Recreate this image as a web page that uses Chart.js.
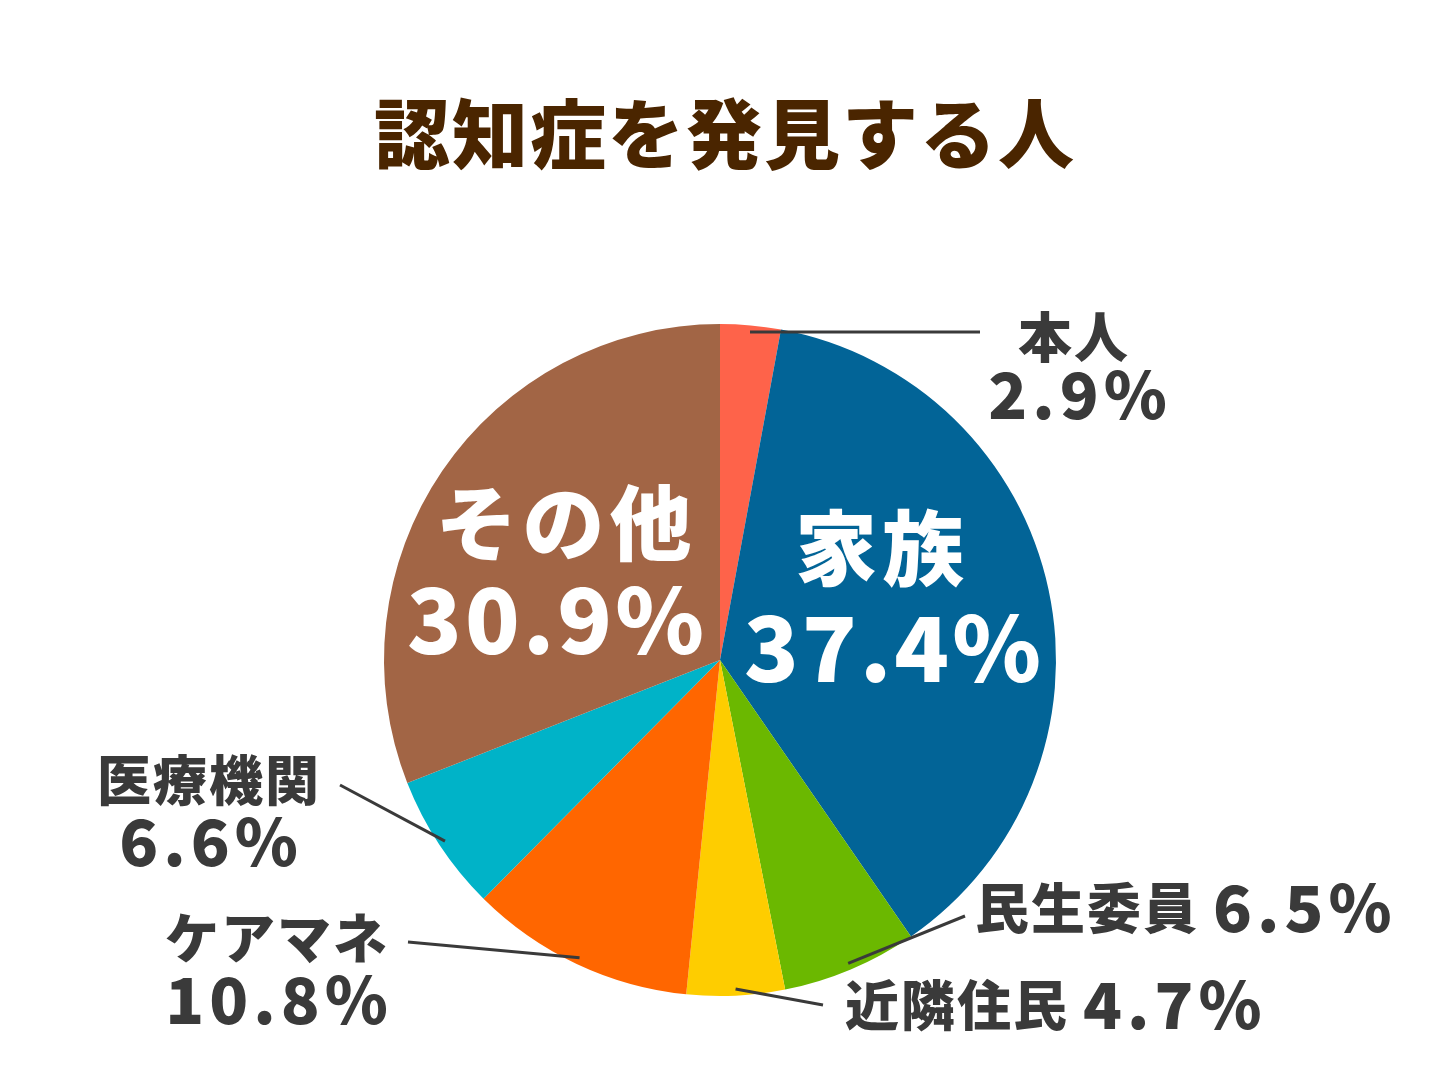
<!DOCTYPE html>
<html>
<head>
<meta charset="utf-8">
<script src="https://cdn.jsdelivr.net/npm/chart.js@4"></script>
<style>
  html, body { margin: 0; padding: 0; background: #fff; }
  #wrap { width: 1452px; height: 1089px; position: relative; }
</style>
</head>
<body>
<div id="wrap"><canvas id="myChart"></canvas></div>
<script>
const title = '認知症を発見する人';
const labels = ['本人', '家族', '民生委員', '近隣住民', 'ケアマネ', '医療機関', 'その他'];
const values = [2.9, 37.4, 6.5, 4.7, 10.8, 6.6, 30.9];
const colors = ['#FE634A', '#026497', '#6BB800', '#FECD00', '#FF6600', '#00B3C8', '#A26545'];

// label placement (inside = white text on slice, outside = dark text with leader line)
const place = [
  { mode: 'stack', x: 1074, y: 337, gap: 58, dx: 6, line: [980, 332] },
  { mode: 'inside', x: 882, y: 548, gap: 100, dx: 12 },
  { mode: 'row', x: 975, y: 908, line: [965, 916] },
  { mode: 'row', x: 845, y: 1005, line: [823, 1005] },
  { mode: 'stack', x: 277, y: 938, gap: 62, dx: 2, line: [408, 942] },
  { mode: 'stack', x: 209, y: 780, gap: 62, dx: 2, line: [340, 785] },
  { mode: 'inside', x: 566, y: 523, gap: 97, dx: -9 }
];

const FONT = '"Noto Sans CJK JP", "Noto Sans", sans-serif';

const labelPlugin = {
  id: 'pieLabels',
  afterDraw(chart) {
    const ctx = chart.ctx;
    const arcs = chart.getDatasetMeta(0).data;
    ctx.save();
    // title
    ctx.fillStyle = '#4A2500';
    ctx.font = '900 76px ' + FONT;
    ctx.textAlign = 'center';
    ctx.textBaseline = 'middle';
    ctx.letterSpacing = '2px';
    ctx.fillText(title, 725, 134);

    arcs.forEach((arc, i) => {
      const p = place[i];
      const pct = values[i].toFixed(1) + '%';
      if (p.line) {
        const mid = (arc.startAngle + arc.endAngle) / 2;
        const r = arc.outerRadius * 0.98;
        ctx.beginPath();
        ctx.moveTo(arc.x + Math.cos(mid) * r, arc.y + Math.sin(mid) * r);
        ctx.lineTo(p.line[0], p.line[1]);
        ctx.strokeStyle = '#3A3A3A';
        ctx.lineWidth = 3;
        ctx.stroke();
      }
      ctx.textBaseline = 'middle';
      if (p.mode === 'inside') {
        ctx.fillStyle = '#FFFFFF';
        ctx.textAlign = 'center';
        ctx.letterSpacing = '5px';
        ctx.font = '900 82px ' + FONT;
        ctx.fillText(labels[i], p.x, p.y);
        ctx.letterSpacing = '3px';
        ctx.font = '900 90px ' + FONT;
        ctx.fillText(pct, p.x + p.dx, p.y + p.gap);
      } else if (p.mode === 'stack') {
        ctx.fillStyle = '#3A3A3A';
        ctx.textAlign = 'center';
        ctx.letterSpacing = '2px';
        ctx.font = '900 54px ' + FONT;
        ctx.fillText(labels[i], p.x, p.y);
        ctx.letterSpacing = '5px';
        ctx.font = '900 64px ' + FONT;
        ctx.fillText(pct, p.x + p.dx, p.y + p.gap);
      } else {
        ctx.fillStyle = '#3A3A3A';
        ctx.textAlign = 'left';
        ctx.letterSpacing = '2px';
        ctx.font = '900 54px ' + FONT;
        ctx.fillText(labels[i], p.x, p.y);
        const w = ctx.measureText(labels[i]).width;
        ctx.letterSpacing = '5px';
        ctx.font = '900 64px ' + FONT;
        ctx.fillText(pct, p.x + w + 14, p.y);
      }
    });
    ctx.restore();
  }
};

let myChart = new Chart(
  document.getElementById('myChart'),
  {
    type: 'pie',
    data: {
      labels: labels,
      datasets: [{
        data: values,
        backgroundColor: colors,
        borderWidth: 0
      }]
    },
    options: {
      responsive: true,
      maintainAspectRatio: false,
      animation: false,
      layout: { padding: { top: 324, bottom: 93, left: 384, right: 396 } },
      plugins: {
        legend: { display: false },
        tooltip: { enabled: false }
      }
    },
    plugins: [labelPlugin]
  }
);
</script>
</body>
</html>
